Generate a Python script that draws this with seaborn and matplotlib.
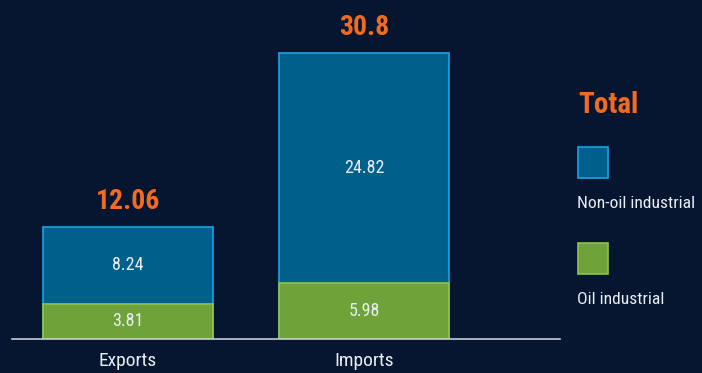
import pandas as pd
import seaborn as sns
import matplotlib.pyplot as plt
from matplotlib.patches import Rectangle

categories = ['Exports', 'Imports']
oil = [3.81, 5.98]
non_oil = [8.24, 24.82]
totals = [12.06, 30.8]

df = pd.DataFrame({'flow': categories, 'oil': oil, 'non_oil': non_oil, 'total': totals})

bg = '#061630'
blue, blue_edge = '#00608c', '#1aa3e6'
green, green_edge = '#6fa33a', '#8fc44c'
orange = '#f26b21'
fg = '#e9eef3'

sns.set_style('dark')
plt.rcParams['font.family'] = ['Roboto Condensed', 'DejaVu Sans']

fig = plt.figure(figsize=(7.02, 3.73), dpi=100, facecolor=bg)
ax = fig.add_axes([12 / 702, 34 / 373, 548 / 702, 329 / 373])
ax.set_facecolor(bg)

# stacked: full (oil + non-oil) in blue, oil drawn over it in green
sns.barplot(x='flow', y='total', data=df.assign(total=df['oil'] + df['non_oil']),
            color=blue, edgecolor=blue_edge, linewidth=1.2, width=0.72,
            saturation=1, ax=ax)
sns.barplot(x='flow', y='oil', data=df, color=green, edgecolor=green_edge,
            linewidth=1.2, width=0.72, saturation=1, ax=ax)

for i, row in df.iterrows():
    ax.text(i, row['oil'] / 2, f"{row['oil']:g}", ha='center', va='center',
            color=fg, fontsize=13)
    ax.text(i, row['oil'] + row['non_oil'] / 2, f"{row['non_oil']:g}",
            ha='center', va='center', color=fg, fontsize=13)
    ax.text(i, row['oil'] + row['non_oil'] + 1.3, f"{row['total']:g}",
            ha='center', va='bottom', color=orange, fontsize=20, fontweight='bold')

ax.set_xlim(-0.49, 1.83)
ax.set_ylim(0, 35.4)
ax.set_xlabel('')
ax.set_ylabel('')
ax.set_yticks([])
ax.tick_params(axis='x', length=0, pad=9, labelsize=14, labelcolor=fg)
for s in ['top', 'right', 'left']:
    ax.spines[s].set_visible(False)
ax.spines['bottom'].set_color('#c8ccd2')
ax.spines['bottom'].set_linewidth(1.2)
ax.grid(False)

# legend on the right
fig.text(578 / 702, 1 - 105 / 373, 'Total', color=orange, fontsize=21,
         fontweight='bold', va='center', ha='left')
fig.patches.append(Rectangle((578 / 702, 1 - 178 / 373), 30 / 702, 31 / 373,
                             transform=fig.transFigure, facecolor=blue,
                             edgecolor=blue_edge, linewidth=1.2))
fig.text(577 / 702, 1 - 204 / 373, 'Non-oil industrial', color=fg, fontsize=12.6,
         va='center', ha='left')
fig.patches.append(Rectangle((578 / 702, 1 - 274 / 373), 30 / 702, 31 / 373,
                             transform=fig.transFigure, facecolor=green,
                             edgecolor=green_edge, linewidth=1.2))
fig.text(577 / 702, 1 - 299 / 373, 'Oil industrial', color=fg, fontsize=12.6,
         va='center', ha='left')

fig.savefig('out.png', dpi=100, facecolor=bg)
